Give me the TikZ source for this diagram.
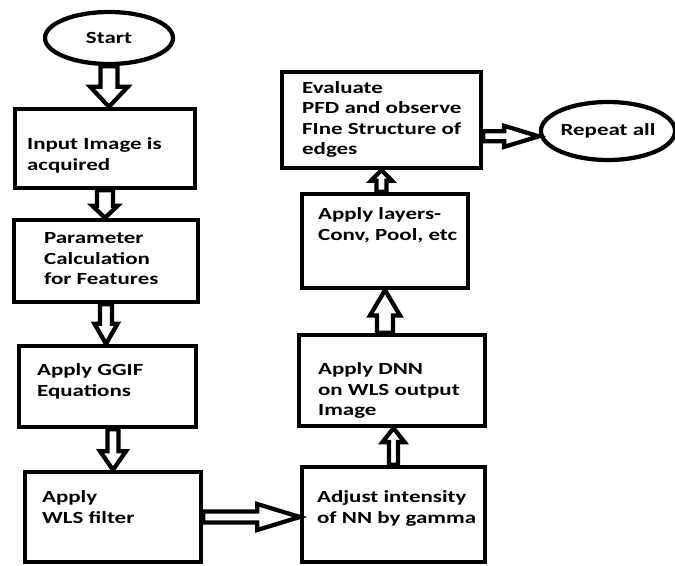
\documentclass[tikz,border=0pt]{standalone}
\usepackage{fontspec}
\setmainfont{Carlito}[FakeStretch=1.35]
\usetikzlibrary{calc,shapes.geometric}

\begin{document}
\begin{tikzpicture}[x=0.75pt, y=-0.75pt, line width=3.2pt,
	every node/.style={font=\fontsize{12.75}{15.4}\selectfont\bfseries},
	box/.style={draw, rectangle, inner sep=0pt},
	oval/.style={draw, ellipse, inner sep=0pt},
	txt/.style={anchor=base west, align=left, inner sep=0pt},
	hollow/.style n args={3}{fill=white, line join=miter, to path={
		($(\tikztostart)!#1!90:(\tikztotarget)$)
		-- ($($(\tikztotarget)!#3!(\tikztostart)$)!#1!90:(\tikztotarget)$)
		-- ($($(\tikztotarget)!#3!(\tikztostart)$)!#2!90:(\tikztotarget)$)
		-- (\tikztotarget)
		-- ($($(\tikztotarget)!#3!(\tikztostart)$)!#2!-90:(\tikztotarget)$)
		-- ($($(\tikztotarget)!#3!(\tikztostart)$)!#1!-90:(\tikztotarget)$)
		-- ($(\tikztostart)!#1!-90:(\tikztotarget)$) -- cycle}}]
\useasboundingbox (0,0) rectangle (675,566);

% left column
\node[oval, minimum width=96pt, minimum height=39pt] (start) at (109,38) {Start};
\node[box, minimum width=135pt, minimum height=59.25pt] (inp) at (105,148.5) {};
\node[box, minimum width=138pt, minimum height=61.5pt] (par) at (106,261) {};
\node[box, minimum width=132.75pt, minimum height=60.75pt] (ggif) at (107.5,386.5) {};
\node[box, minimum width=132pt, minimum height=67.5pt] (wls) at (113,517) {};

% right column
\node[box, minimum width=137.25pt, minimum height=71.25pt] (adj) at (393.5,514.5) {};
\node[box, minimum width=139.5pt, minimum height=68.25pt] (dnn) at (392,380.5) {};
\node[box, minimum width=124.5pt, minimum height=70.5pt] (lay) at (385,241) {};
\node[box, minimum width=149.25pt, minimum height=72pt] (eva) at (381.5,120) {};
\node[oval, minimum width=91.5pt, minimum height=43.5pt] (rep) at (608,131) {Repeat all};
\coordinate (repin) at ([yshift=-4pt]rep.west);

% texts (anchored at the baseline of the last line)
\node[txt] (tinp) at (25,170.5) {Input Image is\\acquired};
\node[txt] (tpar) at (42,285) {Parameter\\Calculation\\for Features};
\node[txt] (tggif) at (35,396.5) {Apply GGIF\\Equations};
\node[txt] (twls) at (40,523.5) {Apply\\WLS filter};
\node[txt] (tadj) at (315,523.5) {Adjust intensity\\of NN by gamma};
\node[txt] (tdnn) at (316,416) {Apply DNN\\on WLS output\\Image};
\node[txt] (tlay) at (316,240.5) {Apply layers-\\Conv, Pool, etc};
\node[txt] (teva) at (300,155) {Evaluate\\PFD and observe\\FIne Structure of\\edges};

% block arrows
\draw[hollow={6.4pt}{14pt}{15pt}] (start.south) to (start.south |- inp.north);
\draw[hollow={6pt}{9.4pt}{9pt}] (inp.south) to (inp.south |- par.north);
\draw[hollow={4.5pt}{8.6pt}{15pt}] (par.south) to (par.south |- ggif.north);
\draw[hollow={4.1pt}{9.75pt}{14pt}] (ggif.south -| wls.north) to (wls.north);
\draw[hollow={4.1pt}{9.75pt}{32pt}] (wls.east) to (wls.east -| adj.west);
\draw[hollow={3.4pt}{8.25pt}{10.5pt}] (adj.north) to (adj.north |- dnn.south);
\draw[hollow={6pt}{11.25pt}{19pt}] (dnn.north -| lay.south) to (lay.south);
\draw[hollow={3.75pt}{7.9pt}{8pt}] (lay.north -| eva.south) to (eva.south);
\draw[hollow={3.75pt}{7.9pt}{26pt}] (eva.east |- repin) to (repin);
\end{tikzpicture}
\end{document}
